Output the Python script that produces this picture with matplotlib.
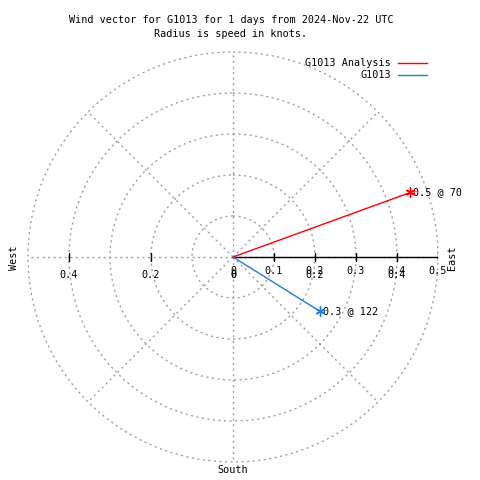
import numpy as np
import matplotlib
matplotlib.use("Agg")
import matplotlib.pyplot as plt

# wind vectors: direction (deg from north, clockwise), speed (knots)
series_names = ["G1013 Analysis", "G1013"]
directions = [70, 122]
speeds = [0.46, 0.25]
point_labels = ["0.5 @ 70", "0.3 @ 122"]
colors = ["#ff0000", "#1c7fe0"]

r_ticks = [0.1, 0.2, 0.3, 0.4, 0.5]
east_labels = ["0", "0.1", "0.2", "0.3", "0.4", "0.5"]
mirror_ticks = [0.4, 0.2, 0.0]

title = "Wind vector for G1013 for 1 days from 2024-Nov-22 UTC\nRadius is speed in knots."

font = "DejaVu Sans Mono"
fs = 7.3
grid_kw = dict(color="#a0a0a0", linestyle=(0, (1.5, 2.5)), linewidth=1.0)

fig = plt.figure(figsize=(4.8, 4.8), dpi=100)
ax = fig.add_axes([28 / 480, 18 / 480, 410 / 480, 410 / 480], projection="polar")
ax.set_theta_zero_location("N")
ax.set_theta_direction(-1)
ax.set_rlim(0, 0.5)
ax.spines["polar"].set_visible(False)
ax.set_xticks(np.radians(np.arange(0, 360, 45)))
ax.set_yticks(r_ticks)
ax.set_xticklabels([])
ax.set_yticklabels([])
ax.grid(True, **grid_kw)
ax.tick_params(length=0)
for gl in ax.get_ygridlines() + ax.get_xgridlines():
    gl.set_clip_on(False)

# radial axis along east
east = np.pi / 2
west = 3 * np.pi / 2
ax.plot([east, east], [0, 0.5], color="black", lw=1, zorder=3)
ax.plot([east] * 5, r_ticks, ls="none", marker="|", ms=6, color="black", zorder=3)
ax.plot([west] * 2, mirror_ticks[:2], ls="none", marker="|", ms=6, color="black", zorder=3)

for lab, r in zip(east_labels, [0.0] + r_ticks):
    ax.annotate(lab, xy=(east, r), xytext=(0, -14), textcoords="offset pixels",
                ha="center", va="center", fontsize=fs, family=font)
for r in mirror_ticks:
    lab = "0" if r == 0 else f"{r:g}"
    for th in (east, west):
        ax.annotate(lab, xy=(th, r), xytext=(0, -18), textcoords="offset pixels",
                    ha="center", va="center", fontsize=fs, family=font)

# wind vectors
for d, s, lab, c in zip(directions, speeds, point_labels, colors):
    th = np.radians(d)
    ax.plot([th, th], [0, s], color=c, lw=1, zorder=4)
    ax.plot([th], [s], marker=(6, 2, 0), ms=7, color=c, mew=1, zorder=5)
    ax.annotate(lab, xy=(th, s), xytext=(3, 0), textcoords="offset pixels",
                ha="left", va="center", fontsize=fs, family=font)

# compass labels
fig.text(14 / 480, 1 - 258 / 480, "West", rotation=90, ha="center", va="center",
         fontsize=fs, family=font)
fig.text(452 / 480, 1 - 258 / 480, "East", rotation=90, ha="center", va="center",
         fontsize=fs, family=font)
fig.text(233 / 480, 1 - 470 / 480, "South", ha="center", va="center",
         fontsize=fs, family=font)

fig.text(231 / 480, 1 - 27 / 480, title, ha="center", va="center",
         fontsize=fs, family=font, linespacing=1.4)

# legend
for i, (name, c) in enumerate(zip(series_names, colors)):
    y = 1 - (63 + 12 * i) / 480
    fig.text(391 / 480, y, name, ha="right", va="center", fontsize=fs, family=font)
    fig.add_artist(plt.Line2D([398 / 480, 427 / 480], [y, y], color=c, lw=1))

fig.savefig("out.png", dpi=100)
